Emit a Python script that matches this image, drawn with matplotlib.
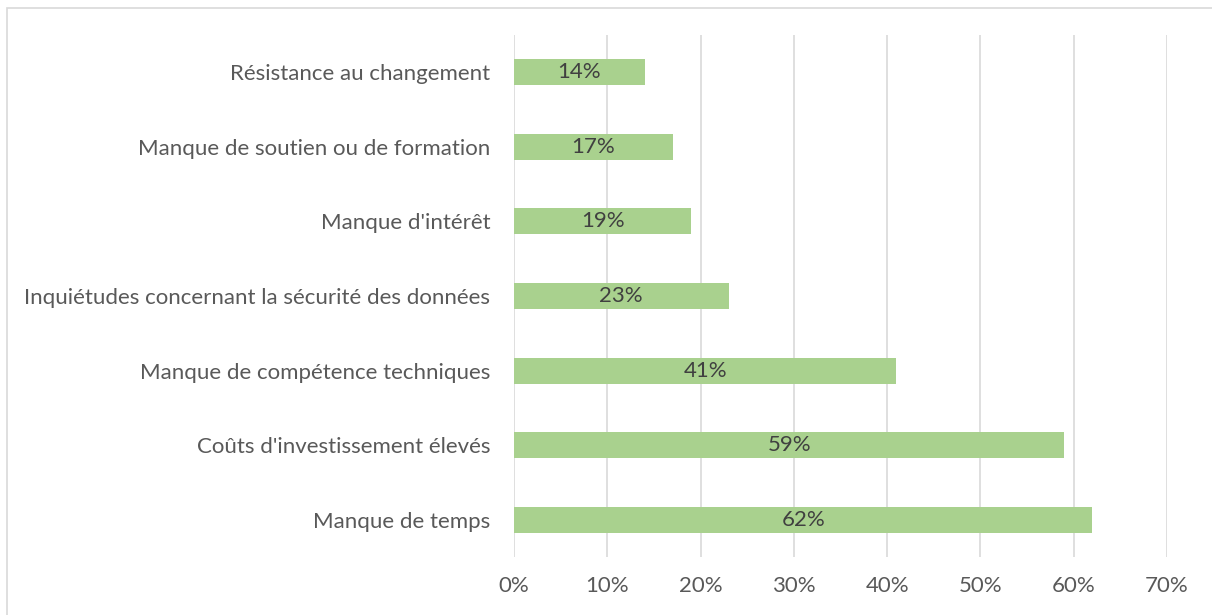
import matplotlib.pyplot as plt
from matplotlib.patches import Rectangle

categories = [
    "Manque de temps",
    "Coûts d'investissement élevés",
    "Manque de compétence techniques",
    "Inquiétudes concernant la sécurité des données",
    "Manque d'intérêt",
    "Manque de soutien ou de formation",
    "Résistance au changement",
]
values = [62, 59, 41, 23, 19, 17, 14]
ticks = [0, 10, 20, 30, 40, 50, 60, 70]

plt.rcParams['font.family'] = ['Lato', 'DejaVu Sans']
text_color = '#595959'

fig = plt.figure(figsize=(12.12, 6.15), dpi=100)
ax = fig.add_axes([514 / 1212, 58 / 615, 653 / 1212, 522 / 615])

# outer chart border (only top and left visible in crop)
fig.patches.append(Rectangle((7 / 1212, -0.1), 1.2, (615 - 8) / 615 + 0.1,
                             transform=fig.transFigure, fill=False,
                             edgecolor='#D9D9D9', linewidth=1.2))

y = range(len(categories))
bars = ax.barh(y, values, height=0.35, color='#A9D18E', zorder=3)
for b, v in zip(bars, values):
    ax.text(v / 2, b.get_y() + b.get_height() / 2, f"{v}%", ha='center', va='center',
            fontsize=16, color='#404040', zorder=4)

ax.set_xlim(0, 70)
ax.set_ylim(-0.5, len(categories) - 0.5)
ax.set_xticks(ticks)
ax.set_xticklabels([f"{t}%" for t in ticks])
ax.set_yticks(list(y))
ax.set_yticklabels(categories)
ax.grid(axis='x', color='#D9D9D9', linewidth=1.2, zorder=0)
ax.tick_params(axis='both', length=0, labelsize=16, labelcolor=text_color)
ax.tick_params(axis='x', pad=14)
ax.tick_params(axis='y', pad=17)
for s in ax.spines.values():
    s.set_visible(False)

fig.savefig('out.png', dpi=100)
